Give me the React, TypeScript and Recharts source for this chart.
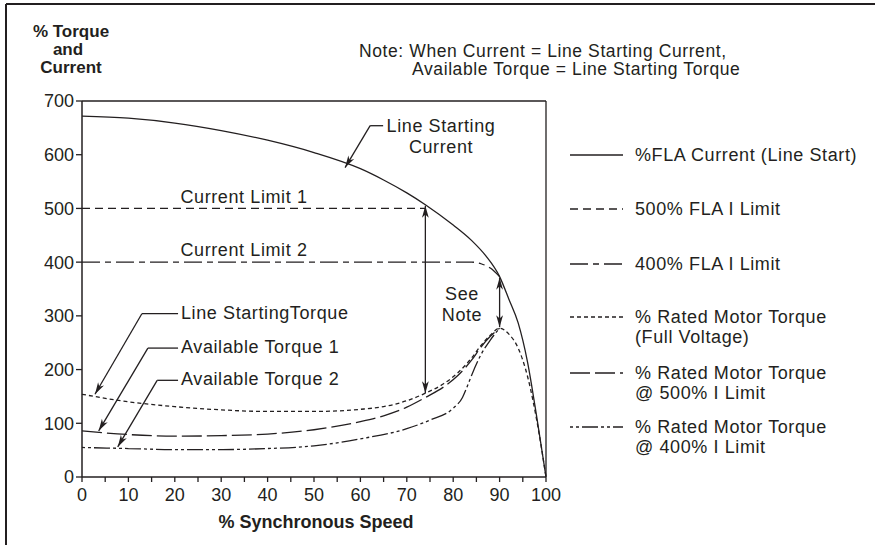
import React from "react";
import { LineChart, Line, XAxis, YAxis, ReferenceLine } from "recharts";

const INK = "#231f20";
const FONT = '"Liberation Sans", Arial, Helvetica, sans-serif';

// % synchronous speed / % value pairs
const currentX = [0, 10, 20, 30, 40, 50, 60, 65, 70, 74, 80, 84, 87, 90, 92, 94, 96, 98, 100];
const currentY = [672, 668, 659, 645, 627, 604, 574, 553, 529, 507, 469, 440, 412, 373, 331, 287, 215, 112, 0];

const limit1X = [0, 74];
const limit1Y = [500, 500];

const limit2X = [0, 84, 86, 88, 90];
const limit2Y = [400, 400, 397, 389, 373];

const fullTorqueX = [0, 10, 20, 30, 40, 50, 60, 65, 70, 74, 78, 81, 84, 86, 88, 90, 92, 94, 96, 98, 100];
const fullTorqueY = [154, 140, 131, 125, 122, 122, 126, 131, 142, 156, 174, 194, 222, 245, 264, 277, 266, 240, 188, 106, 0];

const torque500X = [0, 10, 20, 30, 40, 50, 60, 65, 70, 74, 78, 81, 84, 86, 88, 90];
const torque500Y = [86, 79, 76, 77, 80, 88, 103, 114, 130, 148, 168, 189, 218, 242, 262, 277];

const torque400X = [0, 10, 20, 30, 40, 50, 60, 70, 75, 80, 82, 83, 84, 86, 88, 90];
const torque400Y = [55, 53, 51, 51, 53, 58, 71, 90, 106, 128, 148, 168, 190, 228, 255, 277];

const xTicks = [0, 5, 10, 15, 20, 25, 30, 35, 40, 45, 50, 55, 60, 65, 70, 75, 80, 85, 90, 95, 100];
const yTicks = [0, 100, 200, 300, 400, 500, 600, 700];

const zip = (xs: number[], ys: number[]) => xs.map((x, i) => ({ x, y: ys[i] }));

const DASH_500 = "8 5";
const DASH_400 = "18 5 6 5";
const DASH_FULL = "4 3";
const DASH_T500 = "20 5";
const DASH_T400 = "3 3 3 3 16 3";

function arrowHead(tx: number, ty: number, fx: number, fy: number) {
  const a = Math.atan2(ty - fy, tx - fx);
  const L = 12;
  const W = 3.4;
  const bx = tx - L * Math.cos(a);
  const by = ty - L * Math.sin(a);
  const nx = tx - L * 0.72 * Math.cos(a);
  const ny = ty - L * 0.72 * Math.sin(a);
  const px = -Math.sin(a) * W;
  const py = Math.cos(a) * W;
  return (
    <polygon
      points={`${tx},${ty} ${bx + px},${by + py} ${nx},${ny} ${bx - px},${by - py}`}
      fill={INK}
    />
  );
}

const arrowShape = (both: boolean) => (p: any) => {
  const { x1, y1, x2, y2 } = p;
  return (
    <g>
      <line x1={x1} y1={y1} x2={x2} y2={y2} stroke={INK} strokeWidth={1.3} />
      {arrowHead(x2, y2, x1, y1)}
      {both && arrowHead(x1, y1, x2, y2)}
    </g>
  );
};

// leader lines: [horizontal start, elbow, arrow tip] in data units
const leaders = [
  [{ x: 64.9, y: 654 }, { x: 62.1, y: 654 }, { x: 56.7, y: 576 }],
  [{ x: 20.7, y: 304 }, { x: 12.9, y: 304 }, { x: 2.8, y: 154 }],
  [{ x: 20.7, y: 240 }, { x: 14.2, y: 240 }, { x: 3.6, y: 86 }],
  [{ x: 20.7, y: 180 }, { x: 16.2, y: 180 }, { x: 7.7, y: 56 }],
];

const legendItems = [
  { y: 155, dash: undefined, lines: ["%FLA Current (Line Start)"] },
  { y: 209, dash: DASH_500, lines: ["500% FLA I Limit"] },
  { y: 264, dash: DASH_400, lines: ["400% FLA I Limit"] },
  { y: 317, dash: DASH_FULL, lines: ["% Rated Motor Torque", "(Full Voltage)"] },
  { y: 373, dash: DASH_T500, lines: ["% Rated Motor Torque", "@ 500% I Limit"] },
  { y: 427, dash: DASH_T400, lines: ["% Rated Motor Torque", "@ 400% I Limit"] },
];

const txt = { fontFamily: FONT, fontSize: 18, fill: INK, letterSpacing: 0.6 } as const;

export default function App() {
  return (
    <div style={{ position: "absolute", left: 0, top: 0, width: 875, height: 545, background: "#fff" }}>
      <LineChart
        width={875}
        height={545}
        margin={{ top: 101, right: 329, bottom: 38, left: 22 }}
        style={{ position: "absolute", left: 0, top: 0 }}
      >
        <XAxis
          dataKey="x"
          type="number"
          domain={[0, 100]}
          ticks={xTicks}
          interval={0}
          height={30}
          tickFormatter={(v: number) => (v % 10 === 0 ? String(v) : "")}
          tick={{ fill: INK, fontSize: 18, fontFamily: FONT }}
          tickSize={5}
          tickMargin={6}
          axisLine={{ stroke: INK, strokeWidth: 1.5 }}
          tickLine={{ stroke: INK, strokeWidth: 1.3 }}
        />
        <YAxis
          type="number"
          domain={[0, 700]}
          ticks={yTicks}
          interval={0}
          width={60}
          tick={{ fill: INK, fontSize: 18, fontFamily: FONT }}
          tickSize={6}
          tickMargin={2}
          axisLine={{ stroke: INK, strokeWidth: 1.5 }}
          tickLine={{ stroke: INK, strokeWidth: 1.3 }}
        />
        <ReferenceLine y={700} stroke={INK} strokeWidth={1.3} />
        <ReferenceLine x={100} stroke={INK} strokeWidth={1.3} />

        <Line data={zip(currentX, currentY)} dataKey="y" type="monotone" stroke={INK} strokeWidth={1.3} dot={false} isAnimationActive={false} />
        <Line data={zip(limit1X, limit1Y)} dataKey="y" type="linear" stroke={INK} strokeWidth={1.3} strokeDasharray={DASH_500} dot={false} isAnimationActive={false} />
        <Line data={zip(limit2X, limit2Y)} dataKey="y" type="monotone" stroke={INK} strokeWidth={1.3} strokeDasharray={DASH_400} dot={false} isAnimationActive={false} />
        <Line data={zip(fullTorqueX, fullTorqueY)} dataKey="y" type="monotone" stroke={INK} strokeWidth={1.3} strokeDasharray={DASH_FULL} dot={false} isAnimationActive={false} />
        <Line data={zip(torque500X, torque500Y)} dataKey="y" type="monotone" stroke={INK} strokeWidth={1.3} strokeDasharray={DASH_T500} dot={false} isAnimationActive={false} />
        <Line data={zip(torque400X, torque400Y)} dataKey="y" type="monotone" stroke={INK} strokeWidth={1.3} strokeDasharray={DASH_T400} dot={false} isAnimationActive={false} />

        <ReferenceLine segment={[{ x: 74, y: 156 }, { x: 74, y: 505 }]} shape={arrowShape(true)} />
        <ReferenceLine segment={[{ x: 90, y: 279 }, { x: 90, y: 371 }]} shape={arrowShape(true)} />
        {leaders.map((l, i) => (
          <React.Fragment key={i}>
            <ReferenceLine segment={[l[0], l[1]]} stroke={INK} strokeWidth={1.3} />
            <ReferenceLine segment={[l[1], l[2]]} shape={arrowShape(false)} />
          </React.Fragment>
        ))}
      </LineChart>

      <svg width={875} height={545} style={{ position: "absolute", left: 0, top: 0, pointerEvents: "none" }}>
        <line x1={6} y1={4} x2={875} y2={4} stroke={INK} strokeWidth={2} />
        <line x1={6} y1={4} x2={6} y2={545} stroke={INK} strokeWidth={2} />

        <g style={{ fontFamily: FONT, fontWeight: 700 }} fill={INK} textAnchor="middle" dominantBaseline="middle">
          <text x={71} y={33} fontSize={17}>% Torque</text>
          <text x={68} y={51} fontSize={17}>and</text>
          <text x={71} y={69} fontSize={17}>Current</text>
          <text x={316} y={523} fontSize={18}>% Synchronous Speed</text>
        </g>

        <g {...txt} dominantBaseline="middle">
          <text x={359} y={52} fontSize={17.5}>Note: When Current = Line Starting Current,</text>
          <text x={412} y={70} fontSize={17.5}>Available Torque = Line Starting Torque</text>
          <text x={441} y={127} textAnchor="middle">Line Starting</text>
          <text x={441} y={148} textAnchor="middle">Current</text>
          <text x={244} y={198} textAnchor="middle">Current Limit 1</text>
          <text x={244} y={251} textAnchor="middle">Current Limit 2</text>
          <text x={462} y={295} textAnchor="middle">See</text>
          <text x={462} y={316} textAnchor="middle">Note</text>
          <text x={181} y={314}>Line StartingTorque</text>
          <text x={181} y={348}>Available Torque 1</text>
          <text x={181} y={380}>Available Torque 2</text>
        </g>

        {legendItems.map((it) => (
          <g key={it.y}>
            <line x1={570} x2={623} y1={it.y} y2={it.y} stroke={INK} strokeWidth={1.3} strokeDasharray={it.dash} />
            {it.lines.map((s, j) => (
              <text key={j} x={635} y={it.y + 1 + j * 20} {...txt} dominantBaseline="middle">
                {s}
              </text>
            ))}
          </g>
        ))}
      </svg>
    </div>
  );
}
